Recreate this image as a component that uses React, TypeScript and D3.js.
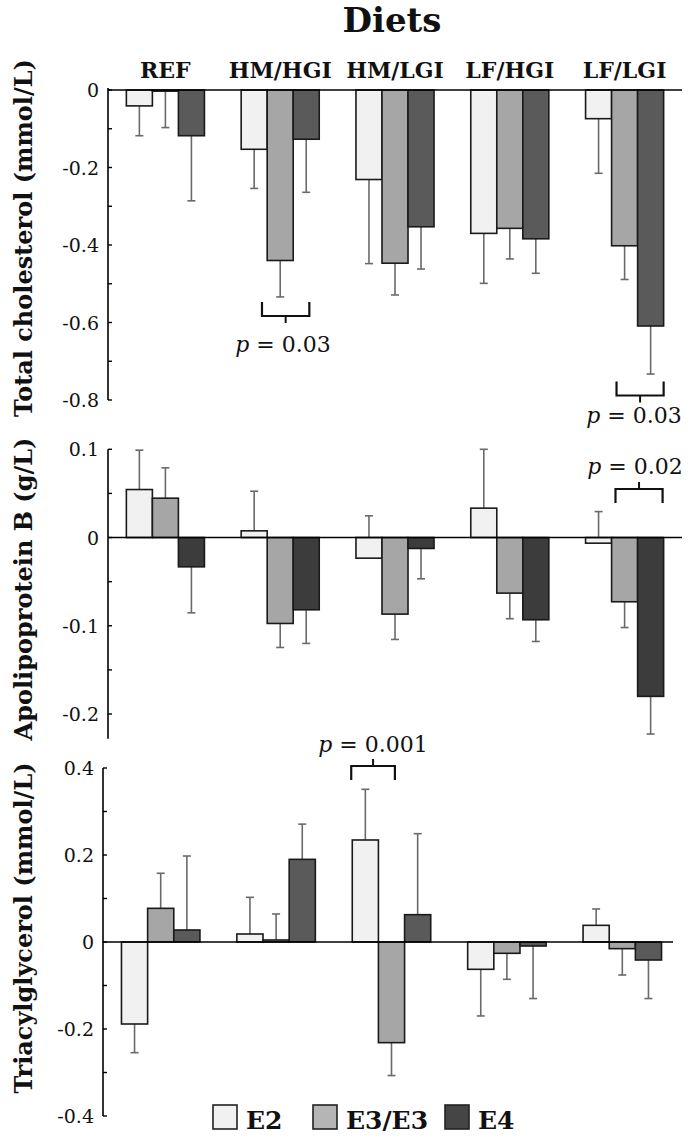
import React from 'react';
import * as d3 from 'd3';

// ---------- data ----------
const diets = ['REF', 'HM/HGI', 'HM/LGI', 'LF/HGI', 'LF/LGI'];
const seriesNames = ['E2', 'E3/E3', 'E4'];

// Total cholesterol (mmol/L): mean change and error-bar tip
const tcE2 = [-0.041, -0.153, -0.231, -0.37, -0.074];
const tcE3 = [-0.003, -0.44, -0.447, -0.357, -0.402];
const tcE4 = [-0.118, -0.127, -0.353, -0.384, -0.609];
const tcE2Tip = [-0.118, -0.254, -0.448, -0.499, -0.215];
const tcE3Tip = [-0.097, -0.534, -0.529, -0.436, -0.489];
const tcE4Tip = [-0.286, -0.264, -0.462, -0.473, -0.733];
const tcTicks = [0, -0.2, -0.4, -0.6, -0.8];
const tcMinor = [-0.1, -0.3, -0.5, -0.7];

// Apolipoprotein B (g/L)
const apoE2 = [0.0544, 0.0076, -0.0234, 0.0333, -0.0064];
const apoE3 = [0.0446, -0.0974, -0.0868, -0.063, -0.0728];
const apoE4 = [-0.0332, -0.0819, -0.0124, -0.0932, -0.18];
const apoE2Tip = [0.099, 0.0525, 0.0246, 0.1, 0.0294];
const apoE3Tip = [0.079, -0.1246, -0.1155, -0.092, -0.102];
const apoE4Tip = [-0.0853, -0.12, -0.0468, -0.1178, -0.2227];
const apoTicks = [0.1, 0, -0.1, -0.2];
const apoMinor = [0.05, -0.05, -0.15];

// Triacylglycerol (mmol/L)
const tgE2 = [-0.1885, 0.0184, 0.2345, -0.0628, 0.0383];
const tgE3 = [0.0774, 0.0046, -0.2314, -0.026, -0.0153];
const tgE4 = [0.0276, 0.19, 0.0628, -0.0092, -0.0414];
const tgE2Tip = [-0.2544, 0.1027, 0.351, -0.17, 0.0759];
const tgE3Tip = [0.158, 0.0644, -0.307, -0.0858, -0.0759];
const tgE4Tip = [0.1977, 0.271, 0.249, -0.13, -0.13];
const tgTicks = [0.4, 0.2, 0, -0.2, -0.4];
const tgMinor = [0.3, 0.1, -0.1, -0.3];

const pLabels = ['0.03', '0.03', '0.02', '0.001'];

// ---------- layout ----------
const FONT = '"DejaVu Serif", "Liberation Serif", serif';

interface Panel {
  title: string;
  values: number[][];
  tips: number[][];
  domain: [number, number];
  yRange: [number, number];
  axisFrom: number;
  axisTo: number;
  xRange: [number, number];
  zeroEnd: number;
  ticks: number[];
  minor: number[];
  fills: string[];
  titleY: number;
}

const panels: Panel[] = [
  {
    title: 'Total cholesterol (mmol/L)',
    values: [tcE2, tcE3, tcE4],
    tips: [tcE2Tip, tcE3Tip, tcE4Tip],
    domain: [-0.8, 0],
    yRange: [400, 90],
    axisFrom: 0.005,
    axisTo: -0.8,
    xRange: [108, 682],
    zeroEnd: 682,
    ticks: tcTicks,
    minor: tcMinor,
    fills: ['#f1f1f1', '#a6a6a6', '#5a5a5a'],
    titleY: 238,
  },
  {
    title: 'Apolipoprotein B (g/L)',
    values: [apoE2, apoE3, apoE4],
    tips: [apoE2Tip, apoE3Tip, apoE4Tip],
    domain: [-0.2, 0.1],
    yRange: [714, 449.3],
    axisFrom: 0.1,
    axisTo: -0.228,
    xRange: [108, 682],
    zeroEnd: 682,
    ticks: apoTicks,
    minor: apoMinor,
    fills: ['#f1f1f1', '#a6a6a6', '#3c3c3c'],
    titleY: 589,
  },
  {
    title: 'Triacylglycerol (mmol/L)',
    values: [tgE2, tgE3, tgE4],
    tips: [tgE2Tip, tgE3Tip, tgE4Tip],
    domain: [-0.4, 0.4],
    yRange: [1116, 768],
    axisFrom: 0.4,
    axisTo: -0.4,
    xRange: [103, 680],
    zeroEnd: 673,
    ticks: tgTicks,
    minor: tgMinor,
    fills: ['#f1f1f1', '#a6a6a6', '#5a5a5a'],
    titleY: 928,
  },
];

// brackets: panel, diet, start/end in bar widths from group start, y of bar line (px),
// open direction, text baseline and x
const brackets = [
  { panel: 0, diet: 'HM/HGI', a: 0.8, b: 2.62, y: 316, open: 'up', ty: 352, tx: 283 },
  { panel: 0, diet: 'LF/LGI', a: 1.19, b: 3.0, y: 395.5, open: 'up', ty: 423, tx: 634 },
  { panel: 1, diet: 'LF/LGI', a: 1.15, b: 2.96, y: 489, open: 'down', ty: 474, tx: 635 },
  { panel: 2, diet: 'HM/LGI', a: -0.04, b: 1.63, y: 766, open: 'down', ty: 752, tx: 373 },
];

const legendFills = ['#f1f1f1', '#b5b5b5', '#454545'];
const legendX = [213, 313, 445];

function PanelView({ p, pi }: { p: Panel; pi: number }) {
  const x0 = d3.scaleBand<string>().domain(diets).range(p.xRange).paddingInner(0.32).paddingOuter(0.16);
  const x1 = d3.scaleBand<string>().domain(seriesNames).range([0, x0.bandwidth()]);
  const y = d3.scaleLinear().domain(p.domain).range(p.yRange);
  const axisX = p.xRange[0];
  const bw = x1.bandwidth();
  return (
    <g>
      {/* y axis */}
      <line x1={axisX} x2={axisX} y1={y(p.axisFrom)} y2={y(p.axisTo)} stroke="#000" strokeWidth={1.6} />
      {p.ticks.map((t) => (
        <g key={'t' + t}>
          <line x1={axisX} x2={axisX + 4} y1={y(t)} y2={y(t)} stroke="#000" strokeWidth={1.4} />
          <text x={axisX - 9} y={y(t)} textAnchor="end" dominantBaseline="central" fontSize={19} fontFamily={FONT} fill="#111">
            {String(t)}
          </text>
        </g>
      ))}
      {p.minor.map((t) => (
        <line key={'m' + t} x1={axisX} x2={axisX + 4} y1={y(t)} y2={y(t)} stroke="#000" strokeWidth={1.4} />
      ))}
      {/* error bars */}
      {p.values.map((vals, si) =>
        vals.map((v, di) => {
          const cx = (x0(diets[di]) as number) + (x1(seriesNames[si]) as number) + bw / 2;
          const tip = p.tips[si][di];
          return (
            <g key={'e' + si + '-' + di}>
              <line x1={cx} x2={cx} y1={y(v)} y2={y(tip)} stroke="#6a6a6a" strokeWidth={1.6} />
              <line x1={cx - 4} x2={cx + 4} y1={y(tip)} y2={y(tip)} stroke="#6a6a6a" strokeWidth={1.6} />
            </g>
          );
        })
      )}
      {/* bars */}
      {p.values.map((vals, si) =>
        vals.map((v, di) => {
          const bx = (x0(diets[di]) as number) + (x1(seriesNames[si]) as number);
          const yt = Math.min(y(v), y(0));
          const h = Math.abs(y(v) - y(0));
          return (
            <rect key={'b' + si + '-' + di} x={bx} y={yt} width={bw} height={h} fill={p.fills[si]} stroke="#1a1a1a" strokeWidth={1.6} />
          );
        })
      )}
      {/* zero line */}
      <line x1={axisX} x2={p.zeroEnd} y1={y(0)} y2={y(0)} stroke="#000" strokeWidth={1.6} />
      {/* y title */}
      <text
        transform={`translate(23,${p.titleY}) rotate(-90)`}
        textAnchor="middle"
        dominantBaseline="central"
        fontSize={24}
        fontWeight="bold"
        fontFamily={FONT}
        fill="#111"
      >
        {p.title}
      </text>
      {/* brackets */}
      {brackets
        .map((b, bi) => ({ b, bi }))
        .filter(({ b }) => b.panel === pi)
        .map(({ b, bi }) => {
          const gx = x0(b.diet) as number;
          const xa = gx + b.a * bw;
          const xb = gx + b.b * bw;
          const dir = b.open === 'up' ? -1 : 1;
          const xm = (xa + xb) / 2;
          return (
            <g key={'br' + bi}>
              <path
                d={`M${xa},${b.y + dir * 14}V${b.y}H${xb}V${b.y + dir * 14}`}
                fill="none"
                stroke="#111"
                strokeWidth={2.2}
              />
              <line x1={xm} x2={xm} y1={b.y} y2={b.y - dir * 7} stroke="#111" strokeWidth={2} />
              <text x={b.tx} y={b.ty} textAnchor="middle" fontSize={22} fontFamily={FONT} fill="#111">
                <tspan fontStyle="italic">p</tspan>
                {' = ' + pLabels[bi]}
              </text>
            </g>
          );
        })}
    </g>
  );
}

export default function App() {
  const x0 = d3.scaleBand<string>().domain(diets).range(panels[0].xRange).paddingInner(0.32).paddingOuter(0.16);
  return (
    <svg width={689} height={1137} style={{ position: 'absolute', left: 0, top: 0, background: '#fff' }}>
      <rect width={689} height={1137} fill="#fff" />
      <text x={392} y={32} textAnchor="middle" fontSize={34} fontWeight="bold" fontFamily={FONT} fill="#111">
        Diets
      </text>
      {diets.map((d) => (
        <text
          key={d}
          x={(x0(d) as number) + x0.bandwidth() / 2}
          y={78}
          textAnchor="middle"
          fontSize={22}
          fontWeight="bold"
          fontFamily={FONT}
          fill="#111"
        >
          {d}
        </text>
      ))}
      {panels.map((p, i) => (
        <PanelView key={i} p={p} pi={i} />
      ))}
      {/* legend */}
      {seriesNames.map((s, i) => (
        <g key={s}>
          <rect x={legendX[i]} y={1105} width={24} height={24} fill={legendFills[i]} stroke="#222" strokeWidth={1.6} />
          <text x={legendX[i] + 33} y={1129} fontSize={25} fontWeight="bold" fontFamily={FONT} fill="#111">
            {s}
          </text>
        </g>
      ))}
    </svg>
  );
}
